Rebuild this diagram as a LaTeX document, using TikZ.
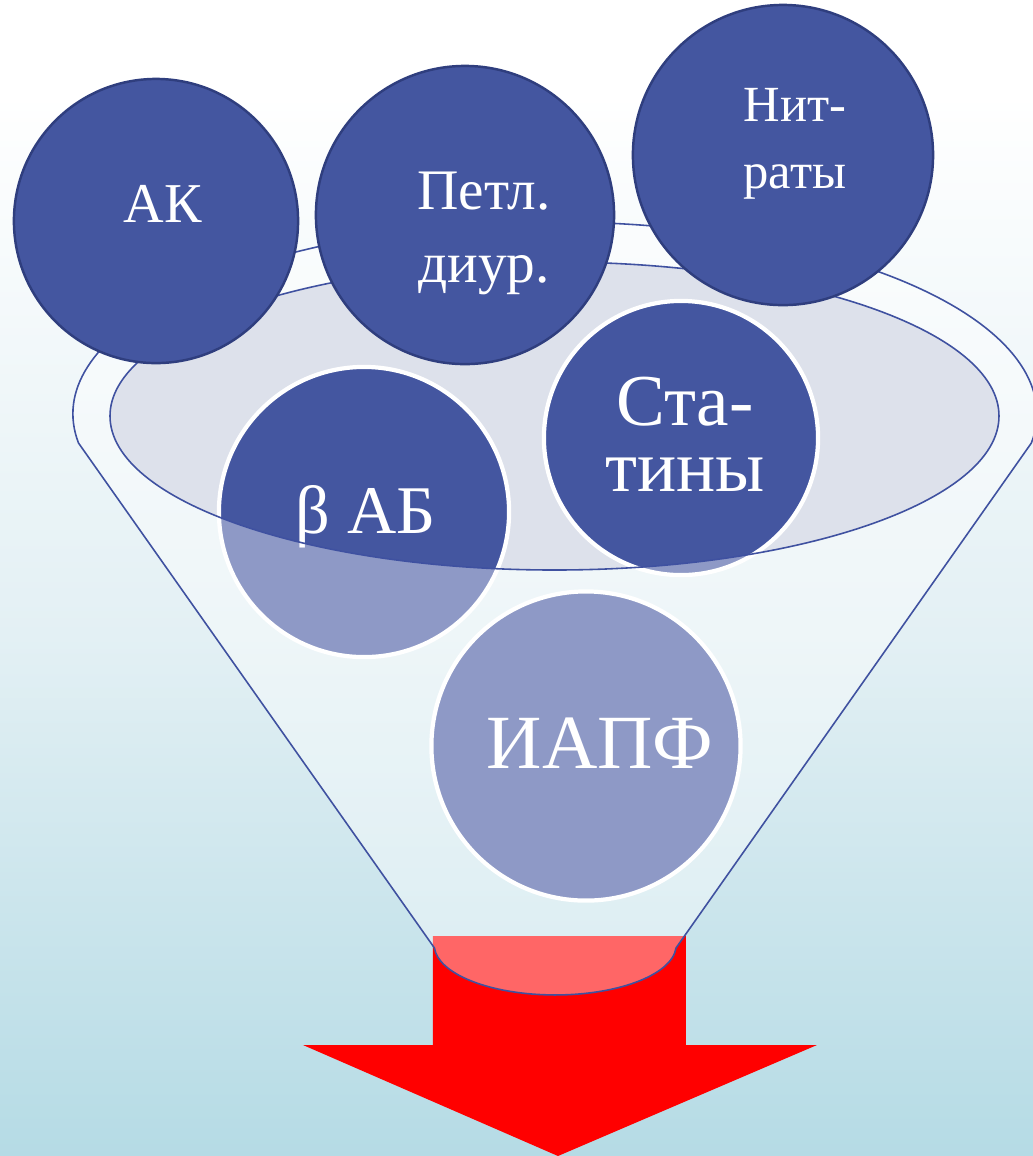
\documentclass[tikz,border=0pt]{standalone}
\usepackage{fontspec}
\setmainfont{Liberation Serif}
\definecolor{ballblue}{HTML}{4456A0}
\definecolor{ballrim}{HTML}{2F3E7E}
\definecolor{funnelline}{HTML}{3F51A0}
\definecolor{ellfill}{HTML}{DDE1EB}
\definecolor{bgbot}{HTML}{B5DBE5}
\definecolor{bgmid}{HTML}{E3F0F4}
\definecolor{arrowred}{HTML}{FF0000}
% the path is fitted to 25bp..75bp of the shading
\pgfdeclareverticalshading{bgfade}{100bp}{color(0bp)=(bgbot); color(25bp)=(bgbot); color(47.5bp)=(bgmid); color(71bp)=(white); color(100bp)=(white)}
\tikzset{
  topball/.style={circle, fill=ballblue, draw=ballrim, line width=0.7pt, inner sep=0pt},
  inball/.style={circle, fill=ballblue, draw=white, line width=1.2pt, inner sep=0pt},
  balltext/.style={text=white, inner sep=0pt, align=center},
}
\begin{document}
\begin{tikzpicture}[x=0.01cm, y=-0.01cm]
  \useasboundingbox (0,0) rectangle (1033,1156);
  \shade[shading=bgfade] (0,0) rectangle (1033,1156);
  % arrow under the funnel
  \fill[arrowred] (433,936) -- (686,936) -- (686,1045) -- (817,1045) -- (558,1156)
    -- (303,1045) -- (433,1045) -- cycle;
  % mouth of the funnel
  \fill[ellfill] (554.5,416) ellipse [x radius=444.5, y radius=154];
  % balls inside the funnel
  \node[inball, minimum size=2.9cm] (bab) at (364,512) {};
  \node[balltext, anchor=base, font=\fontsize{19.4}{23}\selectfont] (babt) at (366,533) {β АБ};
  \node[inball, minimum size=2.74cm] (stat) at (681,438) {};
  \node[balltext, font=\fontsize{20.8}{18.8}\selectfont] (statt) at (685,434) {Ста-\\тины};
  \node[inball, minimum size=3.09cm] (iapf) at (586,746) {};
  \node[balltext, anchor=base, font=\fontsize{21.8}{26}\selectfont] (iapft) at (600,768) {ИАПФ};
  % funnel body, lets the mouth show through
  \path[fill=white, fill opacity=0.4, draw=funnelline, line width=0.45pt, even odd rule]
    (78.5,443) arc[start angle=171.3, end angle=368.7, x radius=482, y radius=192]
    -- (676,948) arc[start angle=3.5, end angle=176.5, x radius=121, y radius=50] -- cycle
    (554.5,416) ellipse [x radius=444.5, y radius=154];
  % balls on top
  \node[topball, minimum size=2.84cm] (ak) at (156,221) {};
  \node[balltext, anchor=base, font=\fontsize{16}{20}\selectfont] (akt) at (163,222) {АК};
  \node[topball, minimum size=2.98cm] (petl) at (465,215) {};
  \node[balltext, font=\fontsize{16.3}{20.8}\selectfont] (petlt) at (484,233) {Петл.\\диур.};
  \node[topball, minimum size=3cm] (nitr) at (783,155) {};
  \node[balltext, font=\fontsize{14.4}{19}\selectfont] (nitrt) at (795,144) {Нит-\\раты};
\end{tikzpicture}
\end{document}
